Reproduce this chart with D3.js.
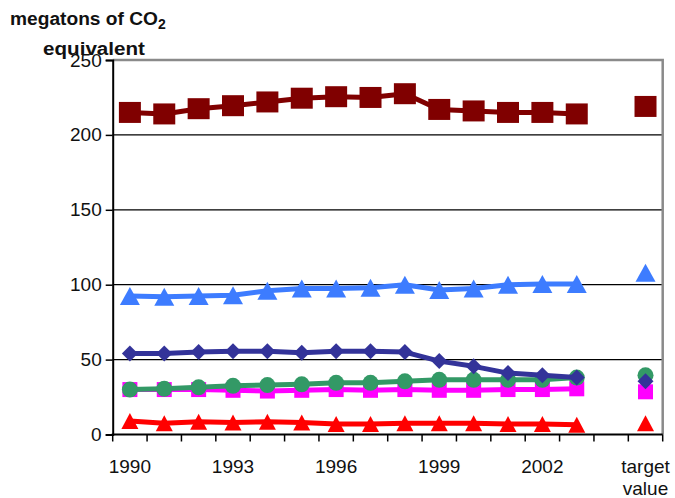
<!DOCTYPE html>
<html>
<head>
<meta charset="utf-8">
<script src="https://cdn.jsdelivr.net/npm/d3@7"></script>
<style>
  body { margin: 0; background: #fff; }
  text { font-family: "Liberation Sans", Arial, sans-serif; fill: #111; }
</style>
</head>
<body>
<div id="chart-area"></div>
<script>
// categories: 1990-2003, a gap, then the target value
const years = ["1990","1991","1992","1993","1994","1995","1996","1997","1998","1999","2000","2001","2002","2003"]
const categories = years.concat(["gap", "target"])
const tickLabels = { "1990": "1990", "1993": "1993", "1996": "1996", "1999": "1999", "2002": "2002", "target": "target|value" }
const yTicks = [0, 50, 100, 150, 200, 250]

const darkRed  = [215, 214, 217.5, 219.5, 222, 224.5, 225.5, 225, 227.5, 217, 216, 215, 215, 214]
const blue     = [92.5, 92, 92.5, 93, 96, 97.5, 97.5, 98, 100, 96.5, 97.5, 100, 100.5, 100.5]
const navy     = [54, 54, 55, 55.5, 55.5, 54.5, 55.5, 55.5, 55, 49, 45.5, 41, 39.5, 38]
const green    = [30, 30.5, 31.5, 32.5, 33, 33.5, 34.5, 34.5, 35.5, 36.5, 36.5, 36.5, 36.5, 38]
const magenta  = [30, 30, 30, 29.5, 29, 29.5, 30, 29.5, 30, 29.5, 29.5, 30, 30, 30.5]
const red      = [9, 7.5, 8.5, 8, 8.5, 8, 7, 7, 7.5, 7.5, 7.5, 7, 7, 6.5]

const targetDarkRed = 219
const targetBlue = 108
const targetNavy = 35.5
const targetGreen = 39.5
const targetMagenta = 28.5
const targetRed = 7.5

const svg = d3.select("#chart-area").append("svg")
  .attr("width", 675)
  .attr("height", 498)

const x = d3.scaleBand()
  .domain(categories)
  .range([112.7, 662.7])
  .padding(0)

const y = d3.scaleLinear()
  .domain([0, 250])
  .range([434.5, 60])

const cx = c => x(c) + x.bandwidth() / 2

// gridlines
svg.append("g")
  .selectAll("line")
  .data([50, 100, 150, 200])
  .enter().append("line")
  .attr("x1", x.range()[0]).attr("x2", x.range()[1])
  .attr("y1", d => y(d)).attr("y2", d => y(d))
  .attr("stroke", "#000").attr("stroke-width", 1.2)

// grey frame top / right
svg.append("path")
  .attr("d", `M${x.range()[0]},${y(250)}H${x.range()[1]}V${y(0)}`)
  .attr("fill", "none").attr("stroke", "#8a8a8a").attr("stroke-width", 2.5)

// y axis
const yAxis = svg.append("g")
  .attr("transform", `translate(${x.range()[0]},0)`)
  .call(d3.axisLeft(y).tickValues(yTicks).tickSize(7).tickPadding(4))
yAxis.select(".domain").attr("stroke", "#000").attr("stroke-width", 2)
yAxis.selectAll(".tick line").attr("stroke", "#000").attr("stroke-width", 1.5)
yAxis.selectAll(".tick text")
  .style("font-size", "19px")
  .attr("fill", "#222")

// x axis: ticks on category boundaries
const bounds = categories.map(c => x(c)).concat([x.range()[1]])
const xAxis = svg.append("g")
xAxis.append("line")
  .attr("x1", x.range()[0] - 1).attr("x2", x.range()[1])
  .attr("y1", y(0)).attr("y2", y(0))
  .attr("stroke", "#000").attr("stroke-width", 2)
xAxis.selectAll(".xt")
  .data(bounds)
  .enter().append("line")
  .attr("class", "xt")
  .attr("x1", d => d).attr("x2", d => d)
  .attr("y1", y(0)).attr("y2", y(0) + 7)
  .attr("stroke", "#000").attr("stroke-width", 1.5)

const lbl = xAxis.selectAll(".xl")
  .data(categories.filter(c => tickLabels[c]))
  .enter().append("text")
  .attr("class", "xl")
  .attr("text-anchor", "middle")
  .style("font-size", "19px")
  .attr("fill", "#222")
lbl.each(function(c) {
  tickLabels[c].split("|").forEach((t, i) => {
    d3.select(this).append("tspan")
      .attr("x", cx(c))
      .attr("y", 472.5 + i * 22.5)
      .text(t)
  })
})

// title (stretched a bit like the original)
svg.append("text")
  .attr("x", 10).attr("y", 25)
  .attr("textLength", 148)
  .attr("lengthAdjust", "spacingAndGlyphs")
  .style("font-size", "18px")
  .style("font-weight", "bold")
  .text("megatons of CO")
svg.append("text")
  .attr("x", 158).attr("y", 29)
  .style("font-size", "14px")
  .style("font-weight", "bold")
  .text("2")
svg.append("text")
  .attr("x", 43).attr("y", 55)
  .attr("textLength", 102)
  .attr("lengthAdjust", "spacingAndGlyphs")
  .style("font-size", "18px")
  .style("font-weight", "bold")
  .text("equivalent")

// marker shapes
const shapes = {
  square: (w, h) => `M${-w/2},${-h/2}H${w/2}V${h/2}H${-w/2}Z`,
  triangle: (w, h) => `M0,${-h/2}L${w/2},${h/2}L${-w/2},${h/2}Z`,
  diamond: (w, h) => `M0,${-h/2}L${w/2},0L0,${h/2}L${-w/2},0Z`
}

const series = [
  { values: darkRed, target: targetDarkRed, color: "#800000", shape: "square", w: 22, h: 21, lw: 5 },
  { values: blue, target: targetBlue, color: "#3d7cff", shape: "triangle", w: 20, h: 18, lw: 5 },
  { values: magenta, target: targetMagenta, color: "#ff00ff", shape: "square", w: 15, h: 15, lw: 5 },
  { values: green, target: targetGreen, color: "#339966", shape: "circle", w: 16, h: 16, lw: 5 },
  { values: navy, target: targetNavy, color: "#333399", shape: "diamond", w: 16, h: 16, lw: 5 },
  { values: red, target: targetRed, color: "#ff0000", shape: "triangle", w: 17, h: 16, lw: 5 }
]

const line = d3.line()
  .x((d, i) => cx(years[i]))
  .y(d => y(d))

series.forEach(s => {
  const g = svg.append("g")
  g.append("path")
    .datum(s.values)
    .attr("d", line)
    .attr("fill", "none")
    .attr("stroke", s.color)
    .attr("stroke-width", s.lw)
    .attr("stroke-linejoin", "round")

  const pts = s.values.map((v, i) => ({ c: years[i], v: v }))
    .concat([{ c: "target", v: s.target }])

  if (s.shape === "circle") {
    g.selectAll("circle")
      .data(pts)
      .enter().append("circle")
      .attr("cx", d => cx(d.c))
      .attr("cy", d => y(d.v))
      .attr("r", s.w / 2)
      .attr("fill", s.color)
  } else {
    g.selectAll(".m")
      .data(pts)
      .enter().append("path")
      .attr("class", "m")
      .attr("transform", d => `translate(${cx(d.c)},${y(d.v)})`)
      .attr("d", shapes[s.shape](s.w, s.h))
      .attr("fill", s.color)
  }
})
</script>
</body>
</html>
